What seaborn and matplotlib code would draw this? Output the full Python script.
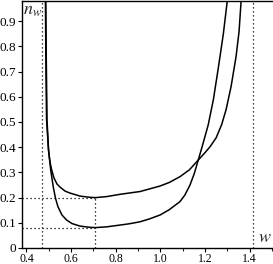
import matplotlib
matplotlib.use("Agg")
import matplotlib.pyplot as plt
import seaborn as sns
import pandas as pd
import numpy as np

# Curve A (upper minimum ~0.2)
w_a = [0.485, 0.487, 0.490, 0.4987, 0.5054, 0.513, 0.5233, 0.5368, 0.550,
       0.5726, 0.595, 0.640, 0.685, 0.710, 0.760, 0.819, 0.909, 0.999, 1.040,
       1.088, 1.130, 1.170, 1.200, 1.223, 1.250, 1.275, 1.295, 1.317, 1.3395,
       1.353, 1.362]
n_a = [0.980, 0.750, 0.510, 0.389, 0.341, 0.310, 0.278, 0.254, 0.242,
       0.226, 0.218, 0.206, 0.201, 0.200, 0.204, 0.213, 0.224, 0.246, 0.260,
       0.283, 0.310, 0.349, 0.378, 0.402, 0.437, 0.490, 0.550, 0.640, 0.760,
       0.860, 0.980]

# Curve B (lower minimum ~0.08)
w_b = [0.4866, 0.4888, 0.492, 0.499, 0.5085, 0.520, 0.530, 0.541, 0.559,
       0.580, 0.604, 0.640, 0.685, 0.710, 0.760, 0.819, 0.860, 0.909, 0.950,
       0.999, 1.040, 1.088, 1.110, 1.133, 1.152, 1.170, 1.190, 1.215, 1.238,
       1.260, 1.2825, 1.300]
n_b = [0.980, 0.750, 0.510, 0.390, 0.310, 0.243, 0.198, 0.164, 0.131,
       0.111, 0.097, 0.087, 0.082, 0.081, 0.084, 0.091, 0.096, 0.104, 0.115,
       0.131, 0.152, 0.184, 0.210, 0.250, 0.295, 0.349, 0.410, 0.490, 0.590,
       0.715, 0.850, 0.980]

# Reference guides
w_left = 0.4714
w_right = 1.4142
w_min = 0.7071
n_min_a = 0.2
n_min_b = 0.08

x_ticks = [0.4, 0.6, 0.8, 1.0, 1.2, 1.4]
x_labels = ["0.4", "0.6", "0.8", "1.0", "1.2", "1.4"]
y_ticks = [0, 0.1, 0.2, 0.3, 0.4, 0.5, 0.6, 0.7, 0.8, 0.9]
y_labels = ["0", "0.1", "0.2", "0.3", "0.4", "0.5", "0.6", "0.7", "0.8", "0.9"]

sns.set_style("ticks")
plt.rcParams["font.family"] = ["Liberation Serif", "DejaVu Serif"]
plt.rcParams["mathtext.fontset"] = "stix"

df = pd.concat([
    pd.DataFrame({"w": w_a, "n": n_a, "curve": "A"}),
    pd.DataFrame({"w": w_b, "n": n_b, "curve": "B"}),
])

fig = plt.figure(figsize=(2.73, 2.64), dpi=100)
ax = fig.add_axes([22 / 273, 16 / 264, 251 / 273, 247 / 264])

sns.lineplot(data=df, x="w", y="n", units="curve", estimator=None,
             color="black", linewidth=1.1, ax=ax, sort=False, legend=False)

dot = dict(color="black", linewidth=0.9, linestyle=(0, (1, 2.2)))
ax.axvline(w_left, **dot)
ax.axvline(w_right, **dot)
ax.plot([w_min, w_min], [0, n_min_a], **dot)
ax.plot([0.38, w_min], [n_min_a, n_min_a], **dot)
ax.plot([0.38, w_min], [n_min_b, n_min_b], **dot)

ax.set_xlim(0.38, 1.505)
ax.set_ylim(0, 0.98)
ax.set_xticks(x_ticks)
ax.set_xticklabels(x_labels)
ax.set_xticks(np.array([0.5, 0.7, 0.9, 1.1, 1.3, 1.5]), minor=True)
ax.set_yticks(y_ticks)
ax.set_yticklabels(y_labels)
ax.set_xlabel("")
ax.set_ylabel("")
ax.tick_params(axis="both", which="major", length=3, width=0.8,
               colors="black")
ax.tick_params(axis="x", which="major", pad=0.3, labelsize=8.5)
ax.tick_params(axis="y", which="major", pad=1, labelsize=9.5)
ax.tick_params(axis="x", which="minor", length=2, width=0.8)

for s in ["left", "bottom", "top"]:
    ax.spines[s].set_visible(True)
    ax.spines[s].set_linewidth(1.0)
    ax.spines[s].set_color("black")
ax.spines["right"].set_visible(False)

ax.text(0.005, 0.995, r"$n_w$", transform=ax.transAxes, ha="left", va="top",
        fontsize=13)
ax.text(0.942, 0.01, r"$w$", transform=ax.transAxes, ha="left", va="bottom",
        fontsize=13)

fig.savefig("out.png", dpi=100)
